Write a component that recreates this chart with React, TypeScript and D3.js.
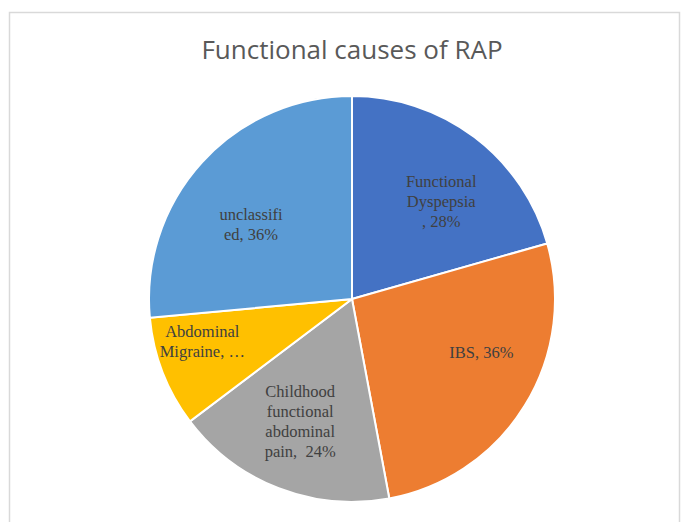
import React from "react";
import * as d3 from "d3";

const categories = [
  "Functional Dyspepsia",
  "IBS",
  "Childhood functional abdominal pain",
  "Abdominal Migraine",
  "unclassified",
];
const values = [28, 36, 24, 12, 36];
const labelLines = [
  ["Functional", "Dyspepsia", ", 28%"],
  ["IBS, 36%"],
  ["Childhood", "functional", "abdominal", "pain,  24%"],
  ["Abdominal", "Migraine, \u2026"],
  ["unclassifi", "ed, 36%"],
];
const colors = ["#4472C4", "#ED7D31", "#A5A5A5", "#FFC000", "#5B9BD5"];

const width = 681;
const height = 522;
const cx = 352;
const cy = 299;
const radius = 203;
const lineHeight = 20;
// nudges from the centroid, like Excel's best-fit placement
const nudge = [
  [6, 18],
  [12, -14],
  [-2, -1],
  [-21, -2],
  [1, 24],
];

export default function App() {
  const pie = d3
    .pie<number>()
    .sort(null)
    .value((d) => d);
  const arcs = pie(values);
  const arc = d3.arc<d3.PieArcDatum<number>>().innerRadius(0).outerRadius(radius);
  const labelArc = d3
    .arc<d3.PieArcDatum<number>>()
    .innerRadius(radius * 0.68)
    .outerRadius(radius * 0.68);

  return (
    <svg
      width={width}
      height={height}
      style={{ position: "absolute", left: 0, top: 0, background: "#fff" }}
    >
      <rect
        x={9.5}
        y={12.5}
        width={670}
        height={520}
        fill="#fff"
        stroke="#d9d9d9"
        strokeWidth={1.5}
      />
      <text
        x={cx}
        y={59}
        textAnchor="middle"
        fontFamily="'Open Sans', sans-serif"
        fontSize={26}
        fill="#595959"
      >
        Functional causes of RAP
      </text>
      <g transform={`translate(${cx},${cy})`}>
        {arcs.map((a, i) => (
          <path
            key={categories[i]}
            d={arc(a) || ""}
            fill={colors[i]}
            stroke="#fff"
            strokeWidth={2}
          />
        ))}
        {arcs.map((a, i) => {
          const [x, y] = labelArc.centroid(a);
          const lines = labelLines[i];
          const bx = x + nudge[i][0];
          const by = y + nudge[i][1] - ((lines.length - 1) * lineHeight) / 2;
          return (
            <text
              key={"l" + i}
              textAnchor="middle"
              fontFamily="'Liberation Serif', 'Times New Roman', serif"
              fontSize={16.5}
              fill="#404040"
            >
              {lines.map((t, j) => (
                <tspan key={j} x={bx} y={by + j * lineHeight} style={{ whiteSpace: "pre" }}>
                  {t}
                </tspan>
              ))}
            </text>
          );
        })}
      </g>
    </svg>
  );
}
